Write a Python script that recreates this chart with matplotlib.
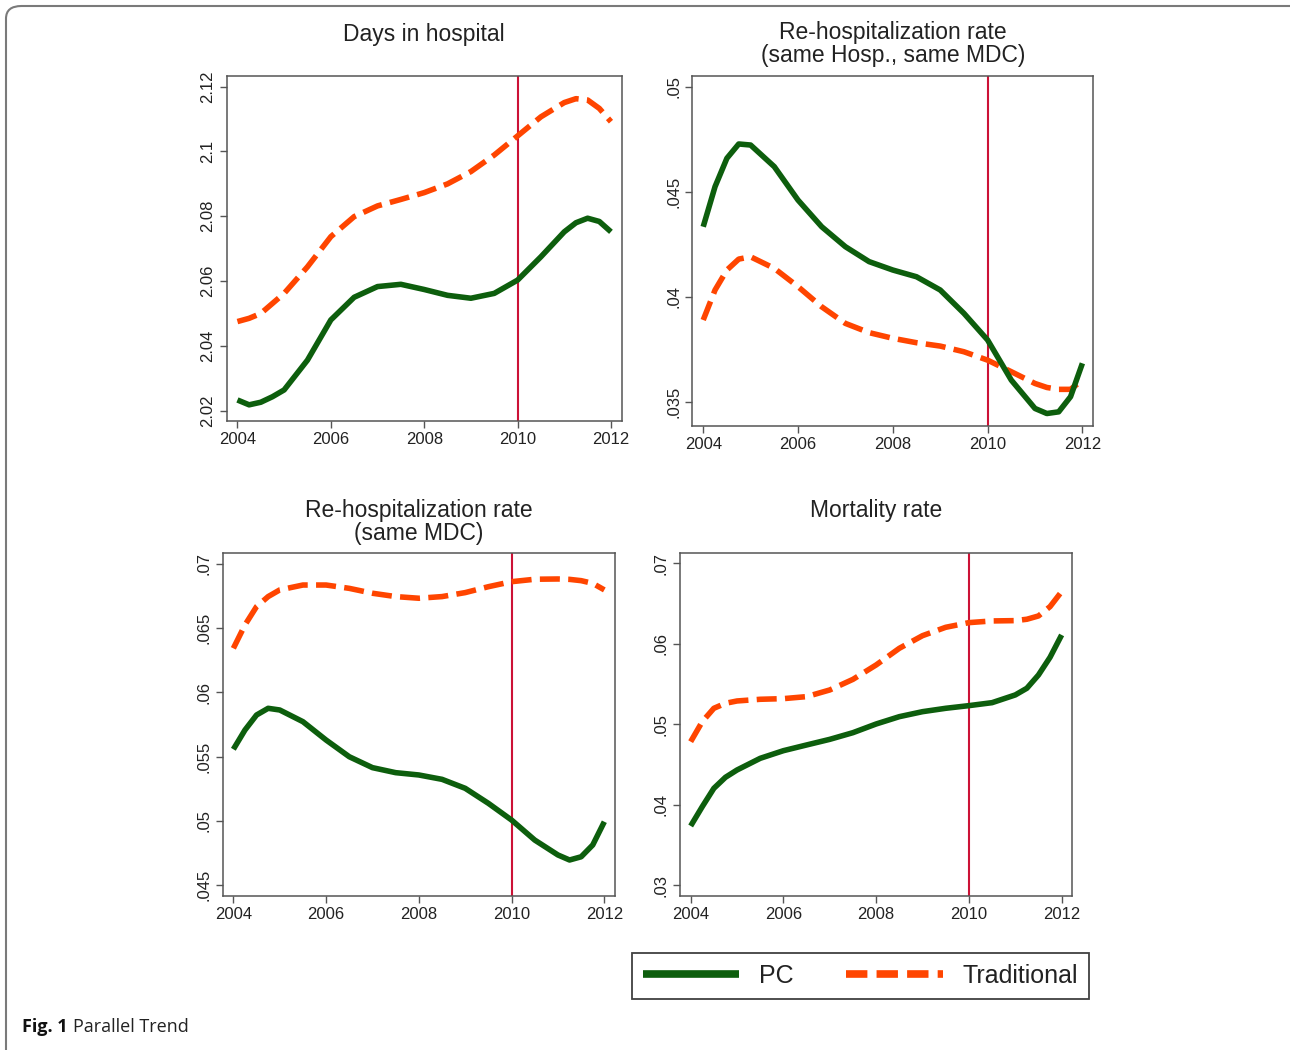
import matplotlib
matplotlib.use("Agg")
import matplotlib.pyplot as plt
from matplotlib.lines import Line2D
from matplotlib.patches import FancyBboxPatch

plt.rcParams["font.family"] = ["Liberation Sans", "DejaVu Sans"]

# values
YEARS = [2004, 2004.25, 2004.5, 2004.75, 2005, 2005.5, 2006, 2006.5, 2007, 2007.5,
         2008, 2008.5, 2009, 2009.5, 2010, 2010.5, 2011, 2011.25, 2011.5, 2011.75, 2012]

days_pc = [2.0233, 2.0218, 2.0226, 2.0243, 2.0264, 2.0356, 2.0480, 2.0550, 2.0583, 2.0590,
           2.0574, 2.0556, 2.0547, 2.0562, 2.0603, 2.0675, 2.0752, 2.0780, 2.0794, 2.0784, 2.0752]
days_trad = [2.0475, 2.0485, 2.0500, 2.0531, 2.0562, 2.0644, 2.0737, 2.0799, 2.0832, 2.0852,
             2.0873, 2.0900, 2.0938, 2.0989, 2.1048, 2.1107, 2.1151, 2.1163, 2.1159, 2.1133, 2.1092]

rehosp_hosp_pc = [0.04333, 0.04524, 0.04659, 0.04727, 0.04722, 0.04619, 0.04460, 0.04333, 0.04238,
                  0.04167, 0.04127, 0.04095, 0.04032, 0.03921, 0.03794, 0.03603, 0.03468, 0.03444,
                  0.03452, 0.03524, 0.03683]
rehosp_hosp_trad = [0.03889, 0.04032, 0.04127, 0.04179, 0.04190, 0.04135, 0.04048, 0.03952, 0.03873,
                    0.03829, 0.03802, 0.03781, 0.03765, 0.03738, 0.03698, 0.03643, 0.03587, 0.03568,
                    0.03559, 0.03559, 0.03603]

rehosp_mdc_pc = [0.05557, 0.05707, 0.05824, 0.05876, 0.05863, 0.05772, 0.05629, 0.05499, 0.05414,
                 0.05375, 0.05357, 0.05323, 0.05253, 0.05136, 0.05006, 0.04850, 0.04734, 0.04695,
                 0.04720, 0.04812, 0.04993]
rehosp_mdc_trad = [0.06343, 0.06525, 0.06668, 0.06746, 0.06798, 0.06836, 0.06836, 0.06810, 0.06772,
                   0.06746, 0.06733, 0.06746, 0.06777, 0.06823, 0.06862, 0.06881, 0.06883, 0.06880,
                   0.06870, 0.06849, 0.06798]

mort_pc = [0.03734, 0.03974, 0.04202, 0.04339, 0.04430, 0.04575, 0.04670, 0.04741, 0.04811,
           0.04894, 0.05002, 0.05093, 0.05155, 0.05197, 0.05230, 0.05267, 0.05363, 0.05446,
           0.05611, 0.05831, 0.06109]
mort_trad = [0.04782, 0.05031, 0.05197, 0.05259, 0.05288, 0.05309, 0.05317, 0.05342, 0.05425,
             0.05557, 0.05736, 0.05943, 0.06100, 0.06204, 0.06262, 0.06283, 0.06287, 0.06304,
             0.06345, 0.06461, 0.06648]

x_ticks = [2004, 2006, 2008, 2010, 2012]
policy_year = 2010

titles = ["Days in hospital",
          "Re-hospitalization rate\n(same Hosp., same MDC)",
          "Re-hospitalization rate\n(same MDC)",
          "Mortality rate"]
y_ticks = [[2.02, 2.04, 2.06, 2.08, 2.10, 2.12],
           [0.035, 0.040, 0.045, 0.050],
           [0.045, 0.050, 0.055, 0.060, 0.065, 0.070],
           [0.03, 0.04, 0.05, 0.06, 0.07]]
y_labels = [["2.02", "2.04", "2.06", "2.08", "2.1", "2.12"],
            [".035", ".04", ".045", ".05"],
            [".045", ".05", ".055", ".06", ".065", ".07"],
            [".03", ".04", ".05", ".06", ".07"]]
y_lims = [(2.0169, 2.1233), (0.03386, 0.05052), (0.04417, 0.07083), (0.02867, 0.07124)]
series = [(days_pc, days_trad), (rehosp_hosp_pc, rehosp_hosp_trad),
          (rehosp_mdc_pc, rehosp_mdc_trad), (mort_pc, mort_trad)]

GREEN = "#0d5e0d"
ORANGE = "#ff4500"
VLINE = "#cc1236"
FRAME = "#555555"

W, H = 1290, 1050
fig = plt.figure(figsize=(W / 100, H / 100), dpi=100)

# axes boxes in pixels: left, top, right, bottom
boxes = [(226.7, 76.0, 621.7, 420.7),
         (692.3, 75.7, 1093.3, 425.7),
         (222.7, 553.3, 615.0, 895.7),
         (680.0, 553.3, 1072.3, 895.7)]
title_tops = [23, 21, 499, 499]

for i in range(4):
    l, t, r, b = boxes[i]
    ax = fig.add_axes([l / W, 1 - b / H, (r - l) / W, (b - t) / H])
    pc, trad = series[i]
    ax.plot(YEARS, trad, color=ORANGE, lw=4, dashes=(3.6, 1.5),
            dash_capstyle="butt", dash_joinstyle="round", zorder=3)
    ax.plot(YEARS, pc, color=GREEN, lw=4, solid_capstyle="butt",
            solid_joinstyle="round", zorder=4)
    ax.axvline(policy_year, color=VLINE, lw=1.5, zorder=2)
    ax.set_xlim(2003.77, 2012.23)
    ax.set_ylim(*y_lims[i])
    ax.set_xticks(x_ticks)
    ax.set_xticklabels([str(x) for x in x_ticks])
    ax.set_yticks(y_ticks[i])
    ax.set_yticklabels(y_labels[i], rotation=90, va="center")
    ax.tick_params(direction="out", length=5, width=1, color=FRAME,
                   labelsize=12, labelcolor="#222222", pad=3)
    for sp in ax.spines.values():
        sp.set_color(FRAME)
        sp.set_linewidth(1.1)
    fig.text((l + r) / 2 / W, 1 - title_tops[i] / H, titles[i], ha="center", va="top",
             fontsize=16.5, color="#222222", linespacing=1.0)

handles = [Line2D([], [], color=GREEN, lw=5.5, solid_capstyle="butt"),
           Line2D([], [], color=ORANGE, lw=5.5, dashes=(2.8, 1.2), dash_capstyle="butt")]
leg = fig.legend(handles, ["PC", "Traditional"], ncol=2, loc="center",
                 bbox_to_anchor=(860.5 / W, 1 - 976 / H), fontsize=18,
                 handlelength=3.85, handletextpad=0.8, columnspacing=2.1,
                 borderpad=0.45, fancybox=False, frameon=True)
leg.get_frame().set_edgecolor("#111111")
leg.get_frame().set_linewidth(1.3)
for txt in leg.get_texts():
    txt.set_color("#222222")

# outer rounded border of the figure panel (runs off the right and bottom edges)
border = FancyBboxPatch((6 / W, -0.05), 1.2, 1 - 6 / H + 0.05,
                        boxstyle="round,pad=0,rounding_size=0.012",
                        transform=fig.transFigure, fill=False,
                        edgecolor="#7a7a7a", lw=1.5, clip_on=False)
fig.patches.append(border)

# caption
cap_y = 1 - 1027 / H
t1 = fig.text(22 / W, cap_y, "Fig. 1", fontsize=13, fontweight="bold",
              family="Open Sans", va="center", color="#111111")
fig.canvas.draw()
bb = t1.get_window_extent()
fig.text((bb.x1 + 5) / W, cap_y, "Parallel Trend", fontsize=13,
         family="Open Sans", va="center", color="#222222")

fig.savefig("out.png", dpi=100)
